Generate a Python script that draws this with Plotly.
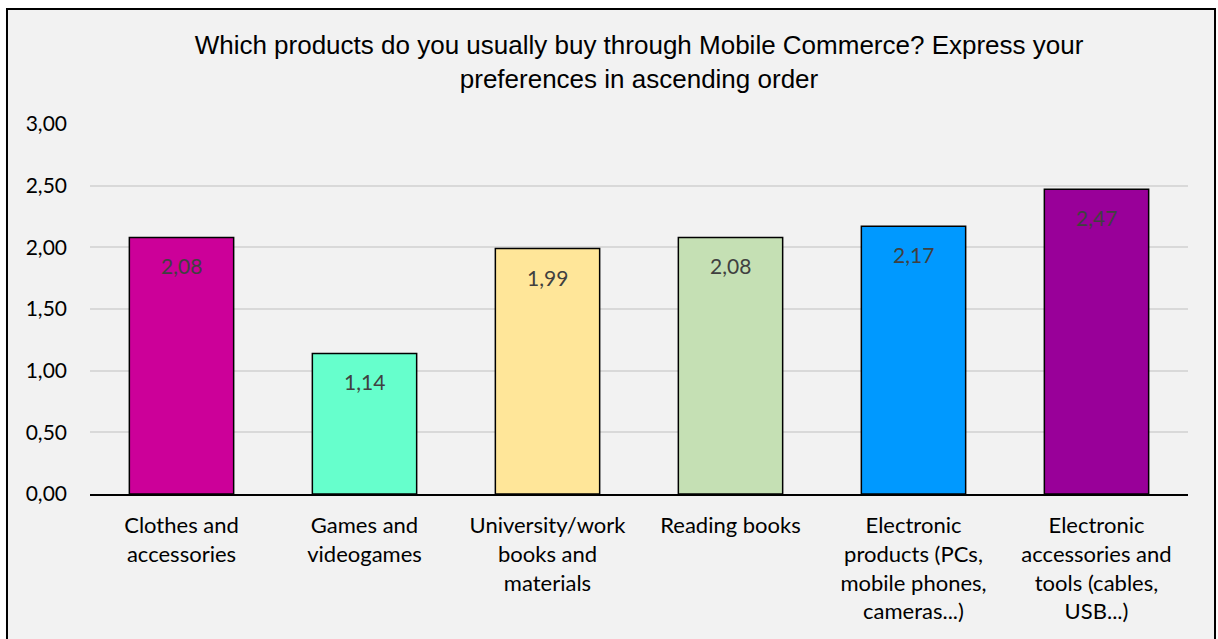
import plotly.graph_objects as go

# Survey results: average preference score per product category
categories = [
    "Clothes and<br>accessories",
    "Games and<br>videogames",
    "University/work<br>books and<br>materials",
    "Reading books",
    "Electronic<br>products (PCs,<br>mobile phones,<br>cameras...)",
    "Electronic<br>accessories and<br>tools (cables,<br>USB...)",
]
scores = [2.08, 1.14, 1.99, 2.08, 2.17, 2.47]
bar_colors = ["#cc0099", "#66ffcc", "#ffe699", "#c5e0b4", "#0099ff", "#990099"]
y_ticks = [0.0, 0.5, 1.0, 1.5, 2.0, 2.5, 3.0]

LABEL_FONT = "Lato, Carlito, Calibri, sans-serif"

fig = go.Figure()
fig.add_trace(go.Bar(
    x=categories,
    y=scores,
    marker=dict(color=bar_colors, line=dict(color="#000000", width=1.5)),
    width=0.57,
    hoverinfo="x+y",
))

# Value labels placed just inside the top of each bar
for cat, val in zip(categories, scores):
    fig.add_annotation(
        x=cat, y=val, xref="x", yref="y",
        text=f"{val:.2f}".replace(".", ","),
        showarrow=False, yanchor="top", yshift=-14,
        font=dict(family=LABEL_FONT, size=21, color="#404040"),
    )

# Chart frame
fig.add_shape(
    type="rect", xref="paper", yref="paper",
    x0=-0.0756, x1=1.0246, y0=-0.45, y1=1.3108,
    line=dict(color="#000000", width=2), fillcolor="#f2f2f2",
    layer="below",
)

fig.update_layout(
    width=1218, height=639,
    margin=dict(l=90, r=30, t=124, b=145),
    paper_bgcolor="#ffffff",
    plot_bgcolor="rgba(0,0,0,0)",
    separators=",.",
    showlegend=False,
    title=dict(
        text="Which products do you usually buy through Mobile Commerce? Express your<br>preferences in ascending order",
        x=0.5, xref="paper", xanchor="center",
        y=0.915, yref="container", yanchor="top",
        font=dict(family="Liberation Sans, Arial, sans-serif", size=26, color="#000000"),
    ),
    xaxis=dict(
        showgrid=False,
        showline=True, linecolor="#000000", linewidth=2,
        ticks="", ticklabelstandoff=11,
        tickfont=dict(family=LABEL_FONT, size=22, color="#000000"),
        fixedrange=True,
    ),
    yaxis=dict(
        range=[0, 3],
        tickvals=y_ticks,
        tickformat=".2f",
        showgrid=True, gridcolor="#d9d9d9", gridwidth=1.5,
        zeroline=False, showline=False,
        ticks="", ticklabelstandoff=22,
        tickfont=dict(family=LABEL_FONT, size=21, color="#000000"),
        fixedrange=True,
    ),
)

fig.write_html("out.html")
